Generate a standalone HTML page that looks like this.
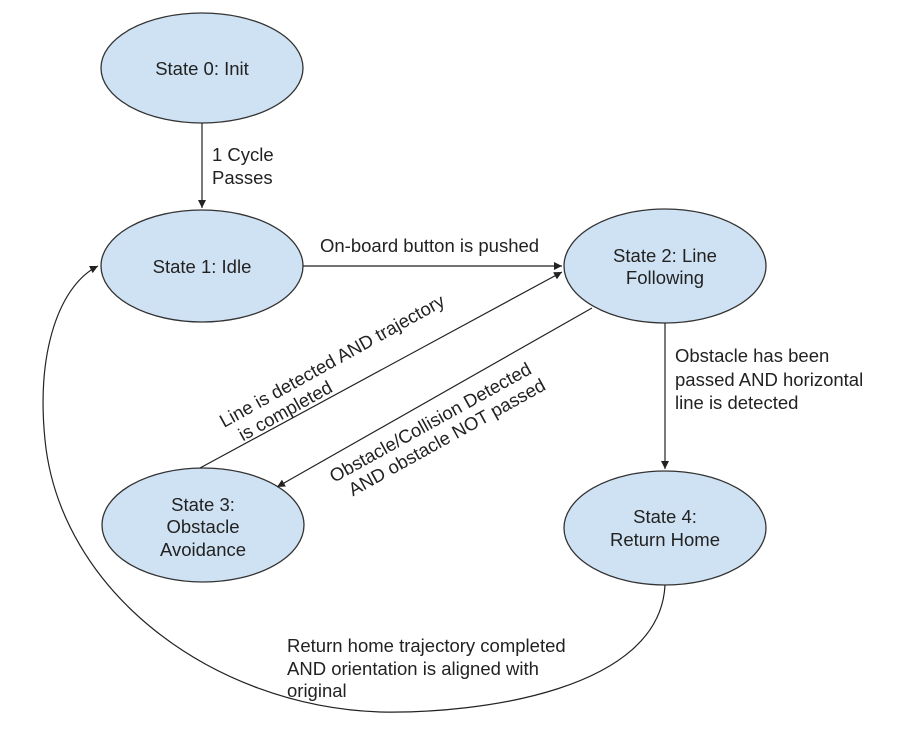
<!DOCTYPE html>
<html><head><meta charset="utf-8"><style>
html,body{margin:0;padding:0;background:#fff;}
svg{display:block;}
text{font-family:"Liberation Sans",Arial,sans-serif;font-size:18.5px;fill:#222;}
</style></head><body>
<svg width="916" height="740" viewBox="0 0 916 740" xmlns="http://www.w3.org/2000/svg">
<defs>
<marker id="a" markerWidth="10" markerHeight="10" refX="8" refY="4" orient="auto" markerUnits="userSpaceOnUse">
<path d="M0,0 L8,4 L0,8 Z" fill="#222"/></marker>
</defs>
<g fill="#cfe2f3" stroke="#333" stroke-width="1.3">
<ellipse cx="202" cy="68" rx="101" ry="55"/>
<ellipse cx="202" cy="266" rx="101" ry="56"/>
<ellipse cx="665" cy="266" rx="101" ry="57"/>
<ellipse cx="203" cy="525" rx="101" ry="57"/>
<ellipse cx="665" cy="528" rx="101" ry="57"/>
</g>
<g stroke="#222" stroke-width="1.2" fill="none">
<line x1="202" y1="123" x2="202" y2="208" marker-end="url(#a)"/>
<line x1="303" y1="266" x2="562" y2="266" marker-end="url(#a)"/>
<line x1="200" y1="468" x2="562" y2="272" marker-end="url(#a)"/>
<line x1="592" y1="308" x2="277" y2="487" marker-end="url(#a)"/>
<line x1="665" y1="323" x2="665" y2="469" marker-end="url(#a)"/>
<path d="M665,585 C660,690 480,714 380,712 C210,706 60,590 45,440 C36,350 60,285 98,266" marker-end="url(#a)"/>
</g>
<text text-anchor="middle" x="202" y="75">State 0: Init</text>
<text text-anchor="middle" x="202" y="273">State 1: Idle</text>
<text text-anchor="middle" x="665" y="262">State 2: Line</text>
<text text-anchor="middle" x="665" y="284">Following</text>
<text text-anchor="middle" x="203" y="511">State 3:</text>
<text text-anchor="middle" x="203" y="533">Obstacle</text>
<text text-anchor="middle" x="203" y="556">Avoidance</text>
<text text-anchor="middle" x="665" y="523">State 4:</text>
<text text-anchor="middle" x="665" y="546">Return Home</text>
<text x="212" y="161">1 Cycle</text>
<text x="212" y="184">Passes</text>
<text x="320" y="252">On-board button is pushed</text>
<text x="675" y="362">Obstacle has been</text>
<text x="675" y="386">passed AND horizontal</text>
<text x="675" y="409">line is detected</text>
<text x="287" y="652">Return home trajectory completed</text>
<text x="287" y="675">AND orientation is aligned with</text>
<text x="287" y="697">original</text>
<g transform="translate(224,428) rotate(-29)">
<text x="0" y="0">Line is detected AND trajectory</text>
<text x="10" y="21">is completed</text>
</g>
<g transform="translate(334,483) rotate(-29)">
<text x="0" y="0">Obstacle/Collision Detected</text>
<text x="10" y="21">AND obstacle NOT passed</text>
</g>
</svg>
</body></html>
